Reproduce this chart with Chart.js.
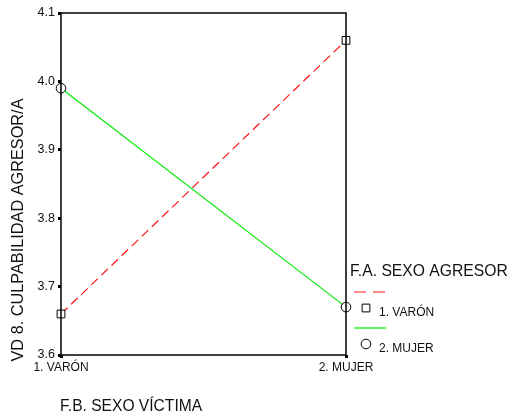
<!DOCTYPE html>
<html>
<head>
<meta charset="utf-8">
<script src="https://cdn.jsdelivr.net/npm/chart.js@4/dist/chart.umd.min.js"></script>
<style>
  html, body { margin: 0; padding: 0; background: #fff; }
  #wrap { width: 510px; height: 416px; }
</style>
</head>
<body>
<div id="wrap"><canvas id="lineChart" width="510" height="416"></canvas></div>
<script>
// categories on the x axis (F.B. sexo víctima)
const categories = ['1. VARÓN', '2. MUJER'];

// series (F.A. sexo agresor)
const seriesNames = ['1. VARÓN', '2. MUJER'];
const varonValues = [3.66, 4.06];
const mujerValues = [3.99, 3.67];

// y axis ticks
const yTicks = [3.6, 3.7, 3.8, 3.9, 4.0, 4.1];

const FONT = 'Liberation Sans, Arial, sans-serif';

// draws the box, the axis titles and the legend on the right
const extras = {
    id: 'extras',
    afterDraw (chart) {
        const ctx = chart.ctx;
        const a = chart.chartArea;
        ctx.save();

        // frame round the plot
        ctx.strokeStyle = '#000';
        ctx.lineWidth = 1.5;
        ctx.strokeRect(a.left, a.top, a.right - a.left, a.bottom - a.top);

        ctx.fillStyle = '#111';

        // y axis title
        ctx.save();
        ctx.translate(23, 230);
        ctx.rotate(-Math.PI / 2);
        ctx.font = '16.3px ' + FONT;
        ctx.textAlign = 'center';
        ctx.textBaseline = 'alphabetic';
        ctx.fillText('VD 8. CULPABILIDAD AGRESOR/A', 0, 0);
        ctx.restore();

        // x axis title
        ctx.font = '15.6px ' + FONT;
        ctx.textAlign = 'left';
        ctx.textBaseline = 'middle';
        ctx.fillText('F.B. SEXO VÍCTIMA', 60, 407);

        // legend
        ctx.font = '15.7px ' + FONT;
        ctx.fillText('F.A. SEXO AGRESOR', 350, 272);

        const ds = chart.data.datasets;
        const rows = [292, 328];
        const legendDash = [[12, 7], []];
        ds.forEach(function (d, i) {
            const y = rows[i];
            ctx.strokeStyle = d.borderColor;
            ctx.lineWidth = 1.2;
            ctx.setLineDash(legendDash[i]);
            ctx.beginPath();
            ctx.moveTo(354, y);
            ctx.lineTo(386, y);
            ctx.stroke();
            ctx.setLineDash([]);

            ctx.strokeStyle = '#000';
            ctx.fillStyle = '#fff';
            ctx.lineWidth = 1;
            Chart.helpers.drawPoint(ctx, {
                pointStyle: d.pointStyle,
                radius: d.pointRadius,
                rotation: 0,
                borderWidth: 1
            }, 366, y + 16);

            ctx.fillStyle = '#111';
            ctx.font = '12px ' + FONT;
            ctx.fillText(d.label, 379, y + 21);
        });

        ctx.restore();
    }
};

const data = {
    labels: categories,
    datasets: [
        {
            label: seriesNames[0],
            data: varonValues,
            borderColor: 'rgb(255, 20, 20)',
            borderWidth: 1.2,
            borderDash: [9, 5],
            pointStyle: 'rect',
            pointRadius: 5.5,
            pointBorderColor: '#000',
            pointBackgroundColor: '#fff',
            pointBorderWidth: 1,
            tension: 0
        },
        {
            label: seriesNames[1],
            data: mujerValues,
            borderColor: 'rgb(0, 235, 0)',
            borderWidth: 1.2,
            pointStyle: 'circle',
            pointRadius: 4.8,
            pointBorderColor: '#000',
            pointBackgroundColor: '#fff',
            pointBorderWidth: 1,
            tension: 0
        }
    ]
};

const config = {
    type: 'line',
    data: data,
    options: {
        responsive: false,
        animation: false,
        layout: {
            padding: { top: 13, right: 164, left: 0, bottom: 0 }
        },
        plugins: {
            legend: { display: false },
            tooltip: { enabled: false }
        },
        scales: {
            x: {
                type: 'category',
                offset: false,
                border: { display: false },
                grid: {
                    drawOnChartArea: false,
                    drawTicks: true,
                    tickLength: 3,
                    tickWidth: 3,
                    tickColor: '#000'
                },
                ticks: {
                    color: '#111',
                    padding: 2,
                    maxRotation: 0,
                    font: { family: FONT, size: 12 }
                },
                afterFit (scale) { scale.height = 61; }
            },
            y: {
                min: 3.6,
                max: 4.1,
                border: { display: false },
                afterBuildTicks (scale) {
                    scale.ticks = yTicks.map(v => ({ value: v }));
                },
                grid: {
                    drawOnChartArea: false,
                    drawTicks: true,
                    tickLength: 3,
                    tickWidth: 3,
                    tickColor: '#000'
                },
                ticks: {
                    color: '#111',
                    padding: 3,
                    font: { family: FONT, size: 12.5 },
                    callback: v => v.toFixed(1)
                },
                afterFit (scale) { scale.width = 61; }
            }
        }
    },
    plugins: [extras]
};

const myChart = new Chart(document.getElementById('lineChart'), config);
</script>
</body>
</html>
